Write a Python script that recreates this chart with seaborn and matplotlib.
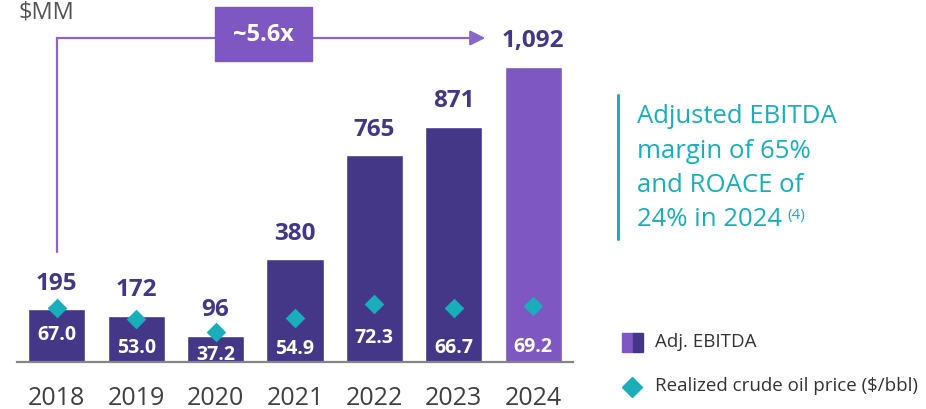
import numpy as np
import pandas as pd
import matplotlib.pyplot as plt
import matplotlib.patches as mpatches
import matplotlib.lines as mlines
import seaborn as sns

years = ["2018", "2019", "2020", "2021", "2022", "2023", "2024"]
ebitda = [195, 172, 96, 380, 765, 871, 1092]
ebitda_labels = ["195", "172", "96", "380", "765", "871", "1,092"]
oil_price = [67.0, 53.0, 37.2, 54.9, 72.3, 66.7, 69.2]
growth_label = "~5.6x"

# where the price labels sit inside the bars (price-axis units)
price_label_y = [33.5, 17.0, 9.1, 15.8, 29.4, 17.0, 18.3]

DARK = "#453788"
LIGHT = "#7E57C2"
TEAL = "#18AEBA"
GREY = "#404040"
FONT = "Open Sans"

sns.set_style("white")
plt.rcParams["font.family"] = [FONT, "DejaVu Sans"]

W, H = 926, 409
fig = plt.figure(figsize=(W / 100, H / 100), dpi=100)

# axes: left 17px, right 573px, baseline at 362px, top at 10px
ax = fig.add_axes([17 / W, (H - 362) / H, (573 - 17) / W, 352 / H])
df = pd.DataFrame({"year": years, "ebitda": ebitda, "oil": oil_price})
colors = [DARK] * 6 + [LIGHT]
sns.barplot(data=df, x="year", y="ebitda", hue="year", palette=colors,
            width=0.72, saturation=1, legend=False, ax=ax)
ax.set_ylim(0, 352 / 0.27)

ax2 = ax.twinx()
sns.stripplot(data=df, x="year", y="oil", jitter=False, marker="D", size=10,
              color=TEAL, linewidth=0, ax=ax2, zorder=5)
ax2.set_ylim(0, 352 / 0.805)
ax2.set_xlim(-0.5, 6.5)

for a in (ax, ax2):
    for s in a.spines.values():
        s.set_visible(False)
    a.set_xlabel("")
    a.set_ylabel("")
    a.set_yticks([])
ax.spines["bottom"].set_visible(True)
ax.spines["bottom"].set_color("#858585")
ax.spines["bottom"].set_linewidth(1.6)

ax.set_xticks(range(len(years)))
ax.set_xticklabels(years, fontsize=18, color=GREY)
ax.set_xticks(np.arange(-0.5, len(years)), minor=True)
ax.tick_params(axis="x", which="major", length=0, pad=17)
ax.tick_params(axis="x", which="minor", length=7, width=1.6, color="#858585")

# value labels
for i, (v, lab) in enumerate(zip(ebitda, ebitda_labels)):
    ax.annotate(lab, (i, v), xytext=(0, 18.5), textcoords="offset points",
                ha="center", va="center", fontsize=17.5, fontweight="bold",
                color=DARK)
for i, (p, py) in enumerate(zip(oil_price, price_label_y)):
    ax2.text(i, py, f"{p:.1f}", ha="center", va="center", fontsize=14,
             fontweight="bold", color="white", zorder=6)

# growth bracket
ax.plot([0, 0, 5.25], [407, 1200, 1200], color="#8B66C9", lw=1.6,
        clip_on=False, solid_joinstyle="miter")
ax.annotate("", xy=(5.43, 1200), xytext=(5.2, 1200),
            arrowprops=dict(arrowstyle="-|>,head_length=0.9,head_width=0.45",
                            color="#8B66C9", lw=1.6), annotation_clip=False)
ax.add_patch(mpatches.Rectangle((1.993, 1115), 1.221, 200, color=LIGHT,
                                clip_on=False, zorder=4))
ax.text(2.603, 1212, growth_label, ha="center", va="center", fontsize=17,
        fontweight="bold", color="white", zorder=5)

fig.text(18 / W, 1 - 12 / H, "$MM", fontsize=17, color="#555555",
         ha="left", va="center")

# side note
fig.add_artist(mlines.Line2D([618 / W, 618 / W], [1 - 95 / H, 1 - 239 / H],
                             color=TEAL, lw=2.2))
note = ["Adjusted EBITDA", "margin of 65%", "and ROACE of", "24% in 2024"]
last = None
for k, line in enumerate(note):
    last = fig.text(637 / W, 1 - (123 + 34.5 * k) / H, line, fontsize=18.5,
                    color=TEAL, ha="left", va="baseline")
fig.canvas.draw()
bb = last.get_window_extent()
fig.text((bb.x1 + 5) / W, 1 - 216 / H, "(4)", fontsize=11, color=TEAL,
         ha="left", va="center")

# legend
fig.add_artist(mpatches.Rectangle((622 / W, 1 - 352 / H), 11 / W, 19 / H,
                                  color=LIGHT, transform=fig.transFigure))
fig.add_artist(mpatches.Rectangle((633 / W, 1 - 352 / H), 10 / W, 19 / H,
                                  color=DARK, transform=fig.transFigure))
fig.text(655 / W, 1 - 342 / H, "Adj. EBITDA", fontsize=13.5, color="#333333",
         ha="left", va="center")
fig.add_artist(mlines.Line2D([632 / W], [1 - 387 / H], marker="D",
                             markersize=10, color=TEAL, lw=0))
fig.text(655 / W, 1 - 386 / H, "Realized crude oil price ($/bbl)",
         fontsize=13.5, color="#333333", ha="left", va="center")

fig.savefig("out.png", dpi=100)
